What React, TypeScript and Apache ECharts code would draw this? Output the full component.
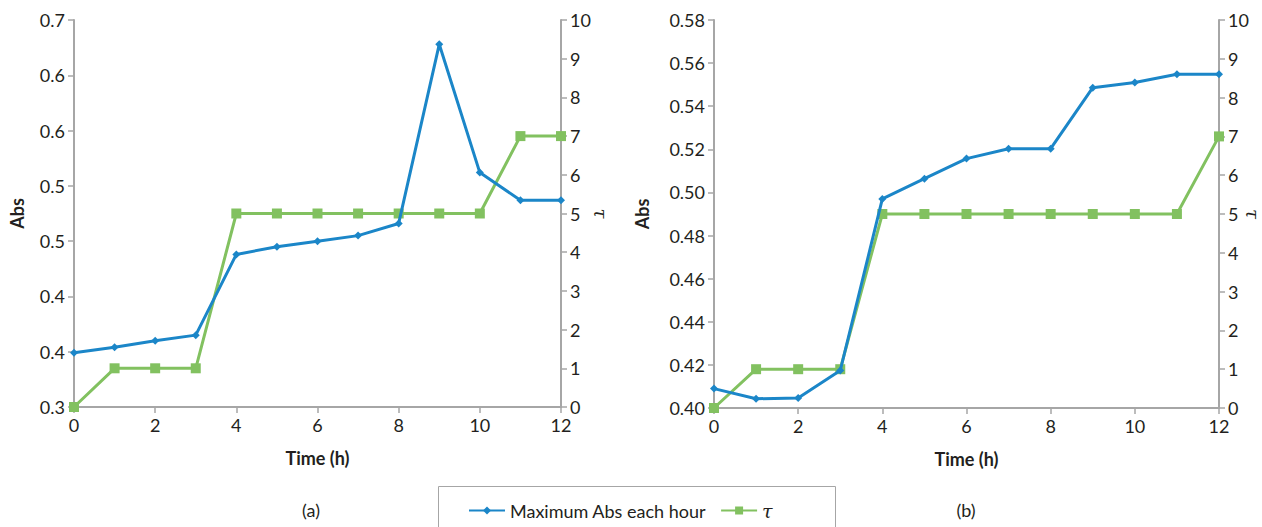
import React, { useEffect, useRef } from "react";
import * as echarts from "echarts";

// Hours of sampling
const hours = [0, 1, 2, 3, 4, 5, 6, 7, 8, 9, 10, 11, 12];

// Panel (a)
const absA = [0.349, 0.354, 0.36, 0.365, 0.438, 0.445, 0.45, 0.455, 0.466, 0.628, 0.512, 0.487, 0.487];
const tauA = [0, 1, 1, 1, 5, 5, 5, 5, 5, 5, 5, 7, 7];
const absTickLabelsA = ["0.3", "0.4", "0.4", "0.5", "0.5", "0.6", "0.6", "0.7"];

// Panel (b)
const absB = [0.409, 0.4043, 0.4046, 0.4174, 0.497, 0.5064, 0.5157, 0.5203, 0.5203, 0.5486, 0.551, 0.5548, 0.5548];
const tauB = [0, 1, 1, 1, 5, 5, 5, 5, 5, 5, 5, 5, 7];

const seriesNames = ["Maximum Abs each hour", "τ"];

const FONT = "Lato, 'Open Sans', sans-serif";
const TAU_FONT = "'DejaVu Serif', serif";
const TEXT = "#231f20";
const AXIS = "#a6a6a6";
const BLUE = "#1b86c8";
const GREEN = "#82c160";

const pairs = (ys: number[]) => hours.map((h, i) => [h, ys[i]]);

export default function App() {
  const ref = useRef<HTMLDivElement>(null);

  useEffect(() => {
    document.body.style.margin = "0";
    const chart = echarts.init(ref.current!, null, { renderer: "svg" });

    const axisCommon = {
      axisLine: { show: true, lineStyle: { color: AXIS, width: 2 } },
      axisTick: { show: true, length: 6, lineStyle: { color: AXIS, width: 1.5 } },
      splitLine: { show: false },
      axisLabel: { color: TEXT, fontSize: 18, fontFamily: FONT, margin: 9 },
      nameTextStyle: { color: TEXT, fontSize: 18, fontWeight: "bold", fontFamily: FONT },
    };

    const xAxis = (gridIndex: number) => ({
      ...axisCommon,
      type: "value",
      gridIndex,
      min: 0,
      max: 12,
      interval: 2,
      name: "Time (h)",
      nameLocation: "middle",
      nameGap: 42,
    });

    const tauAxis = (gridIndex: number, gap: number) => ({
      ...axisCommon,
      type: "value",
      gridIndex,
      position: "right",
      min: 0,
      max: 10,
      interval: 1,
      name: "τ",
      nameLocation: "middle",
      nameRotate: -90,
      nameGap: gap,
      nameMoveOverlap: false,
      nameTextStyle: {
        ...axisCommon.nameTextStyle,
        fontFamily: TAU_FONT,
        fontStyle: "italic",
        fontWeight: "normal",
        fontSize: 18,
        lineHeight: 18,
      },
    });

    const lineSeries = (name: string, data: number[][], xi: number, yi: number, color: string, symbol: string, size: number) => ({
      type: "line",
      name,
      xAxisIndex: xi,
      yAxisIndex: yi,
      data,
      symbol,
      symbolSize: size,
      lineStyle: { color, width: 3 },
      itemStyle: { color },
      z: name === seriesNames[0] ? 3 : 2,
    });

    chart.setOption({
      animation: false,
      textStyle: { fontFamily: FONT },
      grid: [
        { left: 74, top: 20, width: 487, height: 387, outerBoundsMode: "none" },
        { left: 714, top: 20, width: 505, height: 388, outerBoundsMode: "none" },
      ],
      xAxis: [xAxis(0), xAxis(1)],
      yAxis: [
        {
          ...axisCommon,
          type: "value",
          gridIndex: 0,
          min: 0.3,
          max: 0.65,
          interval: 0.05,
          name: "Abs",
          nameLocation: "middle",
          nameGap: 48,
          axisLabel: {
            ...axisCommon.axisLabel,
            formatter: (v: number) => absTickLabelsA[Math.round((v - 0.3) / 0.05)] ?? "",
          },
        },
        tauAxis(0, 30),
        {
          ...axisCommon,
          type: "value",
          gridIndex: 1,
          min: 0.4,
          max: 0.58,
          interval: 0.02,
          name: "Abs",
          nameLocation: "middle",
          nameGap: 63,
          axisLabel: { ...axisCommon.axisLabel, formatter: (v: number) => v.toFixed(2) },
        },
        tauAxis(1, 24),
      ],
      legend: {
        left: 463,
        top: 496,
        itemGap: 14,
        itemWidth: 36,
        itemHeight: 10,
        data: seriesNames,
        textStyle: {
          color: TEXT,
          fontSize: 18,
          fontFamily: FONT,
          rich: { tau: { fontFamily: TAU_FONT, fontStyle: "italic", fontSize: 19, color: TEXT } },
        },
        formatter: (n: string) => (n === seriesNames[1] ? `{tau|${n}}` : n),
      },
      graphic: [
        {
          type: "rect",
          shape: { x: 438.5, y: 486.5, width: 397, height: 60 },
          style: { fill: "none", stroke: "#a6a6a6", lineWidth: 1 },
        },
        {
          type: "text",
          x: 311,
          y: 510,
          style: { text: "(a)", fontSize: 18, fontFamily: FONT, fill: TEXT, align: "center", verticalAlign: "middle" },
        },
        {
          type: "text",
          x: 966,
          y: 510,
          style: { text: "(b)", fontSize: 18, fontFamily: FONT, fill: TEXT, align: "center", verticalAlign: "middle" },
        },
      ],
      series: [
        lineSeries(seriesNames[0], pairs(absA), 0, 0, BLUE, "diamond", 8),
        lineSeries(seriesNames[1], pairs(tauA), 0, 1, GREEN, "rect", 10),
        lineSeries(seriesNames[0], pairs(absB), 1, 2, BLUE, "diamond", 8),
        lineSeries(seriesNames[1], pairs(tauB), 1, 3, GREEN, "rect", 10),
      ],
    });

    return () => chart.dispose();
  }, []);

  return <div ref={ref} style={{ width: 1262, height: 527 }} />;
}
